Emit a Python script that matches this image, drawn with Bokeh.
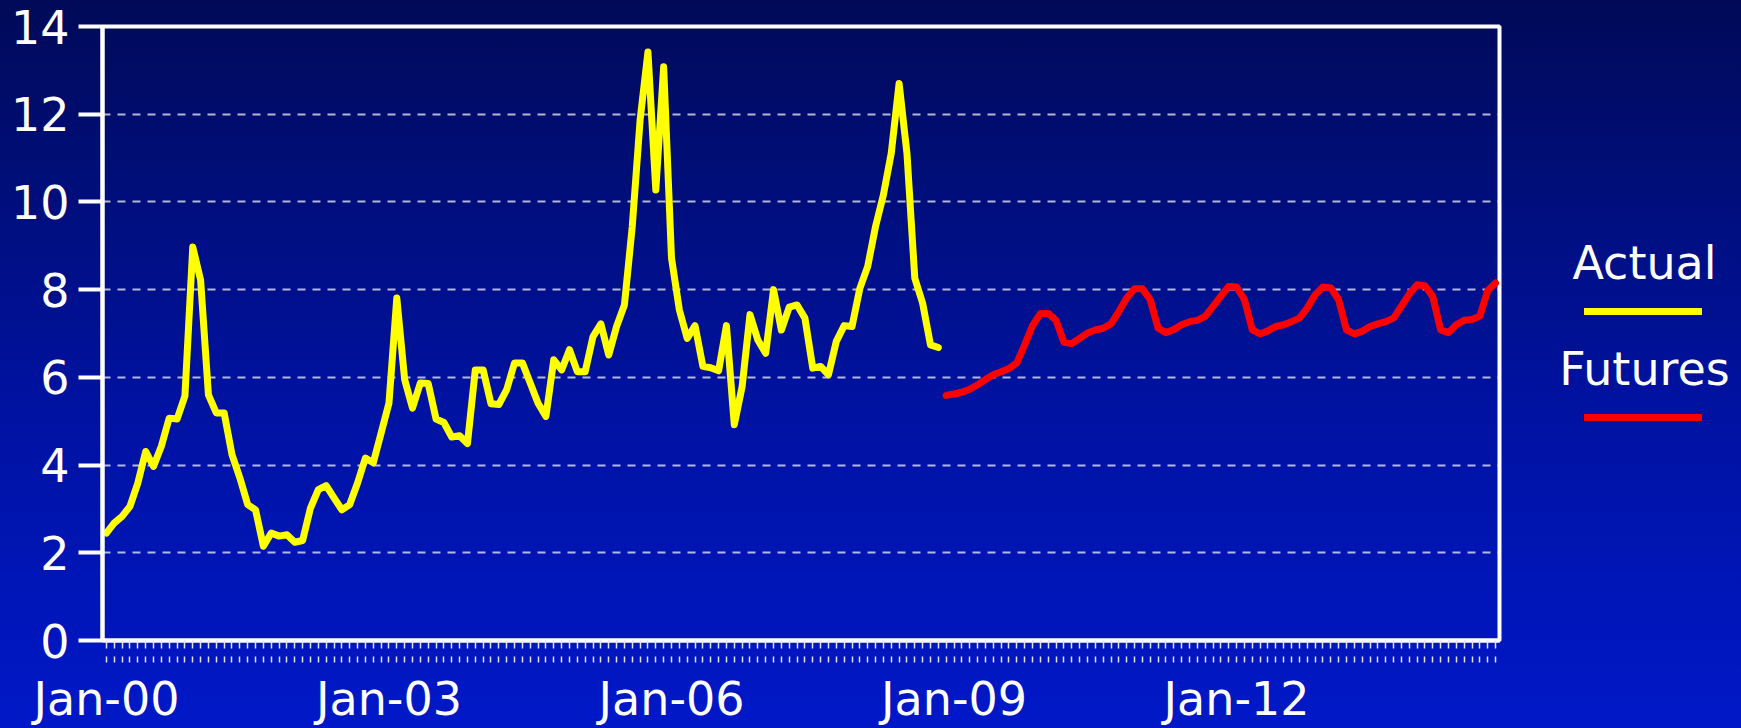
from bokeh.plotting import figure
from bokeh.models import (Range1d, FixedTicker, Legend, LegendItem, Label)
from bokeh.layouts import row
from bokeh.core.properties import value
from bokeh.embed import file_html
from bokeh.resources import INLINE

# ---------------- data ----------------
# monthly prices, starting Jan-2000
actual = [2.45, 2.68, 2.83, 3.06, 3.59, 4.31, 3.97, 4.43, 5.07, 5.05, 5.57, 8.97,
          8.22, 5.60, 5.19, 5.19, 4.24, 3.71, 3.10, 2.98, 2.15, 2.45, 2.38, 2.41,
          2.24, 2.28, 3.02, 3.44, 3.53, 3.25, 2.98, 3.10, 3.59, 4.16, 4.05, 4.73,
          5.41, 7.81, 5.95, 5.30, 5.87, 5.86, 5.05, 4.97, 4.64, 4.67, 4.49, 6.17,
          6.17, 5.40, 5.38, 5.72, 6.33, 6.33, 5.87, 5.41, 5.11, 6.40, 6.17, 6.63,
          6.13, 6.13, 6.93, 7.22, 6.51, 7.16, 7.65, 9.44, 11.87, 13.42, 10.27, 13.08,
          8.72, 7.54, 6.89, 7.18, 6.25, 6.22, 6.15, 7.18, 4.92, 5.79, 7.43, 6.85,
          6.55, 8.00, 7.08, 7.60, 7.65, 7.35, 6.21, 6.25, 6.06, 6.82, 7.18, 7.16,
          8.03, 8.53, 9.44, 10.16, 11.11, 12.70, 11.11, 8.26, 7.69, 6.74, 6.68]
futures = [5.59, 5.62, 5.66, 5.73, 5.83, 5.95, 6.06, 6.13, 6.20, 6.33, 6.74, 7.18,
           7.45, 7.46, 7.30, 6.80, 6.77, 6.89, 7.01, 7.08, 7.12, 7.22, 7.50, 7.81,
           8.02, 8.02, 7.77, 7.12, 7.02, 7.09, 7.20, 7.27, 7.30, 7.39, 7.62, 7.85,
           8.07, 8.06, 7.77, 7.08, 6.99, 7.06, 7.16, 7.20, 7.27, 7.35, 7.58, 7.88,
           8.06, 8.04, 7.77, 7.08, 6.99, 7.05, 7.16, 7.22, 7.27, 7.35, 7.62, 7.90,
           8.11, 8.09, 7.84, 7.08, 7.02, 7.20, 7.30, 7.32, 7.40, 7.98, 8.15]
series_names = ["Actual", "Futures"]
series_colors = ["#ffff00", "#ff0000"]
tick_labels = ["Jan-00", "Jan-03", "Jan-06", "Jan-09", "Jan-12"]
tick_every = 36  # months between labels
y_ticks = [0, 2, 4, 6, 8, 10, 12, 14]

n_months = len(actual) + len(futures)
months = list(range(n_months))
x_actual = months[:len(actual)]
x_futures = months[len(actual):]
tick_months = [i * tick_every for i in range(len(tick_labels))]

FONT = "DejaVu Sans"
FS = "46px"
H = 728
W_MAIN = 1520
W_LEG = 1741 - W_MAIN
BG = "linear-gradient(180deg, #000a58 0%, #0012a0 55%, #0018c8 100%)"

p = figure(width=W_MAIN, height=H, output_backend="svg", toolbar_location=None,
           x_range=Range1d(-0.5, n_months - 0.5), y_range=Range1d(0, 14),
           min_border_left=102, min_border_right=21, min_border_top=26,
           min_border_bottom=87)
p.styles = {"background": BG}
p.background_fill_alpha = 0
p.border_fill_alpha = 0
p.outline_line_color = "white"
p.outline_line_width = 4

# grid
p.xgrid.grid_line_color = None
p.ygrid.ticker = FixedTicker(ticks=y_ticks[1:-1])
p.ygrid.grid_line_color = "white"
p.ygrid.grid_line_alpha = 0.7
p.ygrid.grid_line_width = 2
p.ygrid.grid_line_dash = "8 7"

# y axis
ya = p.yaxis[0]
ya.ticker = FixedTicker(ticks=y_ticks)
ya.axis_line_color = "white"
ya.axis_line_width = 4
ya.major_tick_line_color = "white"
ya.major_tick_line_width = 4
ya.major_tick_out = 24
ya.major_tick_in = 0
ya.minor_tick_line_color = None
ya.major_label_standoff = 9
ya.major_label_text_font = FONT
ya.major_label_text_font_size = FS
ya.major_label_text_color = "white"

# x axis: a tick at every month in two rows (minor row touching the axis,
# major row a little lower), labels every three years
tick_color = "#dfe3ff"
overrides = {m: "" for m in months}
overrides.update({m: t for m, t in zip(tick_months, tick_labels)})
xa = p.xaxis[0]
xa.ticker = FixedTicker(ticks=months, minor_ticks=months)
xa.major_label_overrides = overrides
xa.axis_line_color = "white"
xa.axis_line_width = 4
xa.minor_tick_in = 0
xa.minor_tick_out = 8
xa.major_tick_in = -16
xa.major_tick_out = 22
xa.major_tick_line_color = tick_color
xa.minor_tick_line_color = tick_color
xa.major_tick_line_width = 1.5
xa.minor_tick_line_width = 1.5
xa.major_label_standoff = 9
xa.major_label_text_font = FONT
xa.major_label_text_font_size = FS
xa.major_label_text_color = "white"

# series
p.line(x_actual, actual, line_color=series_colors[0], line_width=7,
       line_join="round", line_cap="round")
p.line(x_futures, futures, line_color=series_colors[1], line_width=7,
       line_join="round", line_cap="round")

# ---------------- legend panel ----------------
q = figure(width=W_LEG, height=H, output_backend="svg", toolbar_location=None,
           x_range=Range1d(0, 1), y_range=Range1d(0, 1),
           x_axis_type=None, y_axis_type=None,
           min_border_left=0, min_border_right=0, min_border_top=0, min_border_bottom=0)
q.styles = {"background": BG}
q.background_fill_alpha = 0
q.border_fill_alpha = 0
q.outline_line_color = None
q.grid.grid_line_color = None

nan = float("nan")
swatches = [q.line(x=[nan], y=[nan], line_color=c, line_width=7, line_cap="round")
            for c in series_colors]
legend = Legend(items=[LegendItem(label=value(" "), renderers=[r]) for r in swatches],
                location=(64, 218), orientation="vertical", spacing=96,
                glyph_width=118, glyph_height=10, label_text_font_size="1px",
                label_standoff=0, padding=0, margin=0,
                background_fill_alpha=0, border_line_color=None)
q.add_layout(legend)
for name, yb in zip(series_names, [378, 272]):
    q.add_layout(Label(x=124, y=yb, x_units="screen", y_units="screen", text=name,
                       text_align="center", text_baseline="alphabetic",
                       text_font=FONT, text_font_size=FS, text_color="white"))

layout = row(p, q)
open("out.html", "w").write(file_html(layout, INLINE))
